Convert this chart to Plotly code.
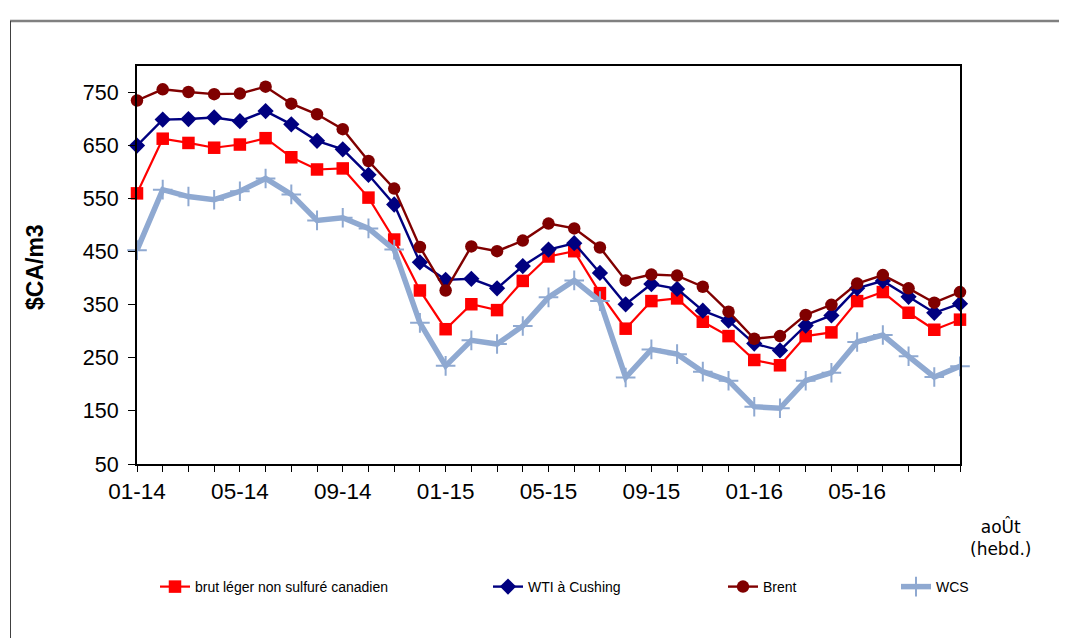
import plotly.graph_objects as go

# ---- data ----
months = ["01-14", "02-14", "03-14", "04-14", "05-14", "06-14", "07-14", "08-14",
          "09-14", "10-14", "11-14", "12-14", "01-15", "02-15", "03-15", "04-15",
          "05-15", "06-15", "07-15", "08-15", "09-15", "10-15", "11-15", "12-15",
          "01-16", "02-16", "03-16", "04-16", "05-16", "06-16", "07-16", "08-16",
          "août (hebd.)"]
label_every = 4

canadien = [560, 663, 655, 646, 652, 664, 628, 605, 607, 552, 473, 377, 304, 351, 340, 395,
            441, 451, 372, 305, 357, 362, 318, 291, 246, 236, 291, 298, 357, 374, 335, 303, 322]
wti = [650, 699, 700, 703, 696, 715, 690, 659, 643, 595, 539, 430, 397, 399, 381, 423,
       454, 466, 410, 351, 389, 380, 339, 320, 277, 264, 311, 330, 381, 395, 365, 335, 352]
brent = [735, 756, 751, 747, 748, 761, 729, 709, 681, 621, 569, 459, 377, 460, 451, 471,
         503, 494, 458, 396, 407, 405, 384, 337, 286, 291, 331, 350, 390, 406, 381, 354, 374]
wcs = [453, 567, 554, 548, 564, 588, 558, 509, 514, 494, 454, 316, 235, 283, 276, 310,
       364, 396, 357, 213, 266, 257, 224, 207, 158, 155, 207, 222, 280, 293, 253, 214, 234]

series_names = ["brut léger non sulfuré canadien", "WTI à Cushing", "Brent", "WCS"]
y_ticks = [50, 150, 250, 350, 450, 550, 650, 750]
y_range = [50, 800]
y_title = "$CA/m3"
last_label = "aoÛt<br>(hebd.)"

x = list(range(len(months)))
ticktext = [m if (i % label_every == 0 and i < len(months) - 1) else "" for i, m in enumerate(months)]

# ---- geometry (reference pixels) ----
W, H = 1067, 638
OFF = 8  # page body margin
L, R, T, B = 137, 960, 66, 464
def px(xp):
    return (xp - L) / (R - L)
def py(yp):
    return (B - yp) / (B - T)

XFONT = dict(family="Liberation Sans, Arial, sans-serif", size=22.5, color="#000")
YFONT = dict(family="Liberation Sans, Arial, sans-serif", size=21.5, color="#000")
LEGFONT = dict(family="Liberation Sans, Arial", size=14, color="#000")

fig = go.Figure()

styles = [
    dict(data=canadien, color="#FF0000", lw=2.2, sym="square", size=12.5, lc=None, legend="legend"),
    dict(data=wti, color="#000080", lw=2.4, sym="diamond", size=12.5, lc=None, legend="legend2"),
    dict(data=brent, color="#800000", lw=2.4, sym="circle", size=12.5, lc=None, legend="legend3"),
    dict(data=wcs, color="#8FA9D1", lw=5.5, sym="cross-thin", size=14, lc="#8FA9D1", legend="legend4"),
]
for name, s in zip(series_names, styles):
    marker = dict(symbol=s["sym"], size=s["size"], color=s["color"])
    if s["lc"]:
        marker["line"] = dict(color=s["lc"], width=2)
    fig.add_trace(go.Scatter(
        x=x, y=s["data"], name=name, mode="lines+markers",
        line=dict(color=s["color"], width=s["lw"]),
        marker=marker, cliponaxis=False, legend=s["legend"], showlegend=True,
    ))

axis_common = dict(showgrid=False, zeroline=False)

fig.update_layout(
    width=W - OFF, height=H - OFF, autosize=False,
    margin=dict(l=L - OFF, r=W - R, t=T - OFF, b=H - B, pad=0),
    paper_bgcolor="white", plot_bgcolor="white",
    font=YFONT, showlegend=True,
    xaxis=dict(range=[0, len(months) - 1], tickmode="array", tickvals=x, ticktext=ticktext,
               ticks="outside", ticklen=6, tickwidth=1, tickcolor="#000",
               showline=True, linecolor="#000", linewidth=2, mirror=True,
               tickfont=XFONT, ticklabelstandoff=0, **axis_common),
    xaxis2=dict(range=[0, len(months) - 1], overlaying="x", anchor="y", side="bottom",
                tickmode="array", tickvals=x, ticks="inside", ticklen=6, tickwidth=1,
                tickcolor="#000", showticklabels=False, showline=False, **axis_common),
    yaxis=dict(range=y_range, tickmode="array", tickvals=y_ticks,
               ticks="outside", ticklen=7, tickwidth=1, tickcolor="#000",
               showline=True, linecolor="#000", linewidth=2, mirror=True,
               tickfont=YFONT, ticklabelstandoff=5, **axis_common),
    yaxis2=dict(range=y_range, overlaying="y", anchor="x", side="right", tickmode="array",
                tickvals=y_ticks, ticks="outside", ticklen=6, tickwidth=1, tickcolor="#000",
                showline=False, tickfont=YFONT, ticklabelstandoff=10, **axis_common),
    yaxis3=dict(range=y_range, overlaying="y", anchor="x", side="right", tickmode="array",
                tickvals=y_ticks, ticks="inside", ticklen=6, tickwidth=1, tickcolor="#000",
                showticklabels=False, showline=False, **axis_common),
)

leg_y = py(587)
leg_common = dict(orientation="h", yanchor="middle", xanchor="left", y=leg_y,
                  font=LEGFONT, bgcolor="rgba(0,0,0,0)", borderwidth=0, itemwidth=30)
fig.update_layout(
    legend=dict(x=px(199 - 44), **leg_common),
    legend2=dict(x=px(532 - 44), **leg_common),
    legend3=dict(x=px(767 - 44), **leg_common),
    legend4=dict(x=px(940 - 44), **leg_common),
)

fig.add_annotation(text="<b>" + y_title + "</b>", xref="paper", yref="paper",
                   x=px(35), y=py(267), textangle=-90, showarrow=False,
                   font=dict(family="Liberation Sans, Arial", size=23, color="#000"),
                   xanchor="center", yanchor="middle")
fig.add_annotation(text=last_label, xref="paper", yref="paper",
                   x=px(1000), y=py(537), showarrow=False,
                   font=dict(family="DejaVu Sans, sans-serif", size=17, color="#000"),
                   xanchor="center", yanchor="middle")

# outer chart frame (top and left edges visible)
fig.add_shape(type="line", xref="paper", yref="paper", x0=px(10), x1=px(W + 5),
              y0=py(21), y1=py(21), line=dict(color="#808080", width=2.5))
fig.add_shape(type="line", xref="paper", yref="paper", x0=px(10.5), x1=px(10.5),
              y0=py(21), y1=py(H + 5), line=dict(color="#404040", width=1))

fig.write_html("out.html")
